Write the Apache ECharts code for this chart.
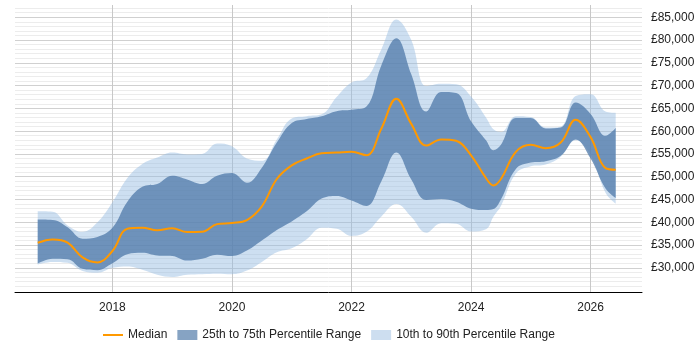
<!DOCTYPE html>
<html>
<head>
<meta charset="utf-8">
<script src="https://cdn.jsdelivr.net/npm/echarts@6/dist/echarts.min.js"></script>
<style>
  html, body { margin: 0; padding: 0; background: #fff; }
  #chart { width: 700px; height: 350px; }
</style>
</head>
<body>
<div id="chart"></div>
<script>
(function(){
    // quarter-year sample points (plus one extra at the 2024 dip)
    var years = [2016.75, 2017.0, 2017.25, 2017.5, 2017.75, 2018.0, 2018.25, 2018.5, 2018.75,
        2019.0, 2019.25, 2019.5, 2019.75, 2020.0, 2020.25, 2020.5, 2020.75,
        2021.0, 2021.25, 2021.5, 2021.75, 2022.0, 2022.25, 2022.5, 2022.75,
        2023.0, 2023.25, 2023.5, 2023.75, 2024.0, 2024.25, 2024.375, 2024.5, 2024.75,
        2025.0, 2025.25, 2025.5, 2025.75, 2026.0, 2026.25, 2026.42];

    var median = [35500, 36250, 35550, 32300, 31200, 33700, 38600, 38800, 38250,
        38700, 37850, 37900, 39600, 39850, 40500, 43500, 49500,
        52500, 54000, 55150, 55300, 55500, 54700, 60600, 67100,
        61600, 56850, 58200, 57900, 54700, 49700, 48100, 49500, 55450,
        57000, 56250, 57500, 62500, 58700, 51900, 51550];

    var p25 = [30950, 32000, 31900, 29800, 29500, 31000, 33000, 33300, 32700,
        32600, 31600, 32000, 32900, 32600, 33800, 36000, 38300,
        40200, 42400, 45200, 45800, 44800, 43600, 49000, 55300,
        49400, 44900, 45100, 44500, 43000, 42700, 42900, 45000, 51700,
        53100, 53400, 54600, 58200, 54000, 47400, 45300];

    var p75 = [40600, 40500, 38900, 36400, 36800, 38800, 44500, 47800, 48400,
        50200, 49400, 48400, 50200, 50800, 48700, 52000, 57500,
        61800, 62700, 63300, 64400, 64700, 65400, 74500, 80400,
        72500, 64300, 68600, 68400, 62200, 58000, 55800, 57000, 62900,
        62900, 60600, 60800, 66300, 63800, 59000, 60700];

    var p10 = [30750, 31300, 31100, 29300, 28900, 30000, 30300, 29600, 28500,
        28000, 28500, 28600, 28700, 28600, 29400, 31300, 33400,
        34300, 36300, 38800, 38600, 37000, 37900, 41300, 44000,
        41200, 37700, 39800, 39700, 38000, 38500, 41300, 43600, 50700,
        52300, 52700, 54400, 58000, 54800, 46500, 44100];

    var p90 = [42400, 42300, 39300, 37900, 40000, 44400, 49700, 52800, 54200,
        55300, 54900, 55000, 57300, 56700, 54000, 53500, 58200,
        62800, 63300, 63700, 67500, 70700, 71600, 78000, 84500,
        80000, 69900, 70400, 70300, 67600, 63000, 60400, 59800, 63300,
        63100, 60800, 61000, 67700, 68100, 64300, 64000];

    var yearTicks = [2018, 2020, 2022, 2024, 2026];
    var salaryTicks = [30000, 35000, 40000, 45000, 50000, 55000, 60000, 65000, 70000, 75000, 80000, 85000];

    var minorTicks = [];
    for (var v = 25000; v <= 87000; v += 1000) {
        if (v % 5000 !== 0) minorTicks.push(v);
    }

    // value first, year second, so stacking works on the value dimension
    function pairs(vals) {
        return years.map(function (y, i) { return [vals[i], y]; });
    }
    function diff(hi, lo) {
        return years.map(function (y, i) { return [hi[i] - lo[i], y]; });
    }

    var chart = echarts.init(document.getElementById('chart'));

    var yMin = 24700, yMax = 87700;
    var enc = { x: 1, y: 0 };

    var option = {
        animation: false,
        grid: { left: 15, right: 58, top: 5, bottom: 58 },
        legend: {
            bottom: 4,
            left: 98,
            itemGap: 10,
            itemWidth: 20,
            itemHeight: 10,
            textStyle: { fontFamily: 'Liberation Sans, Arial', fontSize: 12, color: '#222' },
            data: [
                { name: 'Median', icon: 'path://M0,4 L20,4 L20,6 L0,6 Z' },
                { name: '25th to 75th Percentile Range', icon: 'rect' },
                { name: '10th to 90th Percentile Range', icon: 'rect' }
            ]
        },
        xAxis: {
            type: 'value',
            min: 2016.37,
            max: 2026.86,
            axisLine: { show: true, lineStyle: { color: '#000', width: 1 } },
            axisTick: { show: false, customValues: yearTicks },
            axisLabel: {
                customValues: yearTicks,
                fontFamily: 'Liberation Sans, Arial',
                fontSize: 12,
                color: '#222',
                margin: 10,
                formatter: function (v) { return String(Math.round(v)); }
            },
            splitLine: { show: true, lineStyle: { color: '#c8c8c8', width: 1 } }
        },
        yAxis: [
            {
                type: 'value',
                position: 'right',
                min: yMin,
                max: yMax,
                axisLine: { show: false },
                axisTick: { show: false, customValues: minorTicks },
                axisLabel: { show: false },
                splitLine: { show: true, lineStyle: { color: '#ececec', width: 1 } }
            },
            {
                type: 'value',
                position: 'right',
                min: yMin,
                max: yMax,
                axisLine: { show: false },
                axisTick: { show: false, customValues: salaryTicks },
                axisLabel: {
                    customValues: salaryTicks,
                    fontFamily: 'Liberation Sans, Arial',
                    fontSize: 12,
                    color: '#222',
                    margin: 9,
                    formatter: function (v) {
                        return '£' + String(v).replace(/\B(?=(\d{3})+(?!\d))/g, ',');
                    }
                },
                splitLine: { show: true, lineStyle: { color: '#d0d0d0', width: 1 } }
            }
        ],
        series: [
            {
                name: 'p10base',
                type: 'line',
                stack: 'outer',
                encode: enc,
                smooth: 0.4,
                symbol: 'none',
                lineStyle: { width: 0, opacity: 0 },
                data: pairs(p10)
            },
            {
                name: '10th to 90th Percentile Range',
                type: 'line',
                stack: 'outer',
                encode: enc,
                smooth: 0.4,
                symbol: 'none',
                itemStyle: { color: '#cddef0' },
                lineStyle: { width: 0, opacity: 0 },
                areaStyle: { color: 'rgba(150,188,225,0.48)', opacity: 1 },
                data: diff(p90, p10)
            },
            {
                name: 'p25base',
                type: 'line',
                stack: 'inner',
                encode: enc,
                smooth: 0.4,
                symbol: 'none',
                lineStyle: { width: 0, opacity: 0 },
                data: pairs(p25)
            },
            {
                name: '25th to 75th Percentile Range',
                type: 'line',
                stack: 'inner',
                encode: enc,
                smooth: 0.4,
                symbol: 'none',
                itemStyle: { color: '#86a3c3' },
                lineStyle: { width: 0, opacity: 0 },
                areaStyle: { color: 'rgba(80,122,169,0.76)', opacity: 1 },
                data: diff(p75, p25)
            },
            {
                name: 'Median',
                type: 'line',
                encode: enc,
                smooth: 0.4,
                symbol: 'none',
                itemStyle: { color: '#ff9900' },
                lineStyle: { color: '#ff9900', width: 2 },
                data: pairs(median)
            }
        ]
    };

    chart.setOption(option);
})();
</script>
</body>
</html>
